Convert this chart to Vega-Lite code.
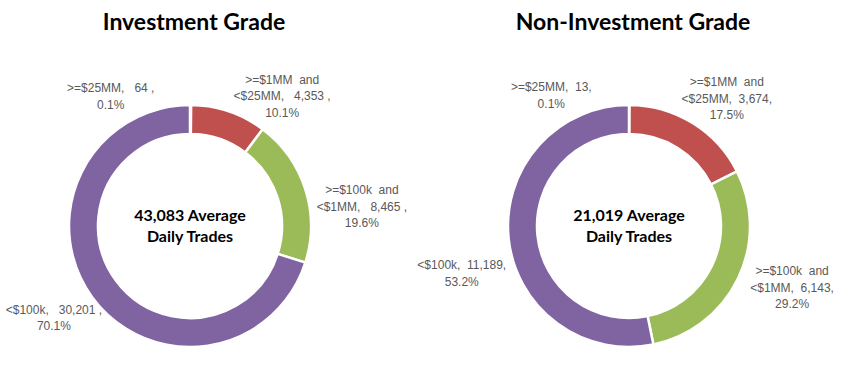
{
  "$schema": "https://vega.github.io/schema/vega-lite/v6.json",
  "padding": {"left": 0, "top": 12, "right": 0, "bottom": 0},
  "bounds": "flush",
  "spacing": 59,
  "background": "white",
  "config": {
    "view": {"stroke": null},
    "title": {"font": "Lato", "fontSize": 23, "fontWeight": "bold", "color": "black", "offset": 6, "dx": 4},
    "text": {"font": "Liberation Sans", "fontSize": 12, "color": "#595959", "lineBreak": "\n", "lineHeight": 16.5, "align": "center", "baseline": "middle"}
  },
  "datasets": {
    "ig": [
      {"ord": 1, "segment": ">=$25MM", "wrapped": ">=$25MM", "trades": 64},
      {"ord": 2, "segment": ">=$1MM and <$25MM", "wrapped": ">=$1MM\u00a0\u00a0and\n<$25MM", "trades": 4353},
      {"ord": 3, "segment": ">=$100k and <$1MM", "wrapped": ">=$100k\u00a0\u00a0and\n<$1MM", "trades": 8465},
      {"ord": 4, "segment": "<$100k", "wrapped": "<$100k", "trades": 30201}
    ],
    "nig": [
      {"ord": 1, "segment": ">=$25MM", "wrapped": ">=$25MM", "trades": 13},
      {"ord": 2, "segment": ">=$1MM and <$25MM", "wrapped": ">=$1MM\u00a0\u00a0and\n<$25MM", "trades": 3674},
      {"ord": 3, "segment": ">=$100k and <$1MM", "wrapped": ">=$100k\u00a0\u00a0and\n<$1MM", "trades": 6143},
      {"ord": 4, "segment": "<$100k", "wrapped": "<$100k", "trades": 11189}
    ]
  },
  "hconcat": [
    {
      "width": 380,
      "height": 370,
      "title": {"text": "Investment Grade"},
      "data": {"name": "ig"},
      "transform": [
        {"stack": "trades", "groupby": [], "sort": [{"field": "ord", "order": "ascending"}], "offset": "normalize", "as": ["t0", "t1"]},
        {"calculate": "(datum.t0 + datum.t1) / 2", "as": "tm"},
        {"calculate": "datum.wrapped + ',\u00a0\u00a0\u00a0' + format(datum.trades, ',') + '\u00a0,\\n' + format(datum.t1 - datum.t0, '.1%')", "as": "label"}
      ],
      "layer": [
        {
          "mark": {"type": "arc", "innerRadius": 92, "outerRadius": 121, "stroke": "white", "strokeWidth": 2.5},
          "encoding": {
            "theta": {"field": "t0", "type": "quantitative", "stack": null, "scale": {"domain": [0, 1]}},
            "theta2": {"field": "t1"},
            "color": {"field": "segment", "type": "nominal", "legend": null,
              "scale": {"domain": [">=$25MM", ">=$1MM and <$25MM", ">=$100k and <$1MM", "<$100k"], "range": ["#4F81BD", "#C0504D", "#9BBB59", "#8064A2"]}}
          }
        },
        {
          "transform": [{"filter": "datum.ord === 1"}],
          "mark": {"type": "text", "radius": 150, "dx": -80, "dy": 12},
          "encoding": {"theta": {"field": "tm", "type": "quantitative", "stack": null}, "text": {"field": "label"}}
        },
        {
          "transform": [{"filter": "datum.ord === 2"}],
          "mark": {"type": "text", "radius": 150, "dx": 44, "dy": -4},
          "encoding": {"theta": {"field": "tm", "type": "quantitative", "stack": null}, "text": {"field": "label"}}
        },
        {
          "transform": [{"filter": "datum.ord === 3"}],
          "mark": {"type": "text", "radius": 150, "dx": 29, "dy": 10},
          "encoding": {"theta": {"field": "tm", "type": "quantitative", "stack": null}, "text": {"field": "label"}}
        },
        {
          "transform": [{"filter": "datum.ord === 4"}],
          "mark": {"type": "text", "radius": 150, "dx": -15, "dy": -5},
          "encoding": {"theta": {"field": "tm", "type": "quantitative", "stack": null}, "text": {"field": "label"}}
        },
        {
          "transform": [
            {"aggregate": [{"op": "sum", "field": "trades", "as": "total"}]},
            {"calculate": "format(datum.total, ',') + ' Average\\nDaily Trades'", "as": "center"}
          ],
          "mark": {"type": "text", "font": "Lato", "fontSize": 16, "fontWeight": "bold", "color": "black", "lineHeight": 21, "dy": -10.5},
          "encoding": {"text": {"field": "center"}}
        }
      ]
    },
    {
      "width": 380,
      "height": 370,
      "title": {"text": "Non-Investment Grade"},
      "data": {"name": "nig"},
      "transform": [
        {"stack": "trades", "groupby": [], "sort": [{"field": "ord", "order": "ascending"}], "offset": "normalize", "as": ["t0", "t1"]},
        {"calculate": "(datum.t0 + datum.t1) / 2", "as": "tm"},
        {"calculate": "datum.wrapped + ',\u00a0\u00a0' + format(datum.trades, ',') + ',\\n' + format(datum.t1 - datum.t0, '.1%')", "as": "label"}
      ],
      "layer": [
        {
          "mark": {"type": "arc", "innerRadius": 92, "outerRadius": 121, "stroke": "white", "strokeWidth": 2.5},
          "encoding": {
            "theta": {"field": "t0", "type": "quantitative", "stack": null, "scale": {"domain": [0, 1]}},
            "theta2": {"field": "t1"},
            "color": {"field": "segment", "type": "nominal", "legend": null,
              "scale": {"domain": [">=$25MM", ">=$1MM and <$25MM", ">=$100k and <$1MM", "<$100k"], "range": ["#4F81BD", "#C0504D", "#9BBB59", "#8064A2"]}}
          }
        },
        {
          "transform": [{"filter": "datum.ord === 1"}],
          "mark": {"type": "text", "radius": 150, "dx": -78, "dy": 11},
          "encoding": {"theta": {"field": "tm", "type": "quantitative", "stack": null}, "text": {"field": "label"}}
        },
        {
          "transform": [{"filter": "datum.ord === 2"}],
          "mark": {"type": "text", "radius": 150, "dx": 19, "dy": -16},
          "encoding": {"theta": {"field": "tm", "type": "quantitative", "stack": null}, "text": {"field": "label"}}
        },
        {
          "transform": [{"filter": "datum.ord === 3"}],
          "mark": {"type": "text", "radius": 150, "dx": 28, "dy": -20},
          "encoding": {"theta": {"field": "tm", "type": "quantitative", "stack": null}, "text": {"field": "label"}}
        },
        {
          "transform": [{"filter": "datum.ord === 4"}],
          "mark": {"type": "text", "radius": 150, "dx": -18, "dy": 24},
          "encoding": {"theta": {"field": "tm", "type": "quantitative", "stack": null}, "text": {"field": "label"}}
        },
        {
          "transform": [
            {"aggregate": [{"op": "sum", "field": "trades", "as": "total"}]},
            {"calculate": "format(datum.total, ',') + ' Average\\nDaily Trades'", "as": "center"}
          ],
          "mark": {"type": "text", "font": "Lato", "fontSize": 16, "fontWeight": "bold", "color": "black", "lineHeight": 21, "dy": -10.5},
          "encoding": {"text": {"field": "center"}}
        }
      ]
    }
  ]
}
